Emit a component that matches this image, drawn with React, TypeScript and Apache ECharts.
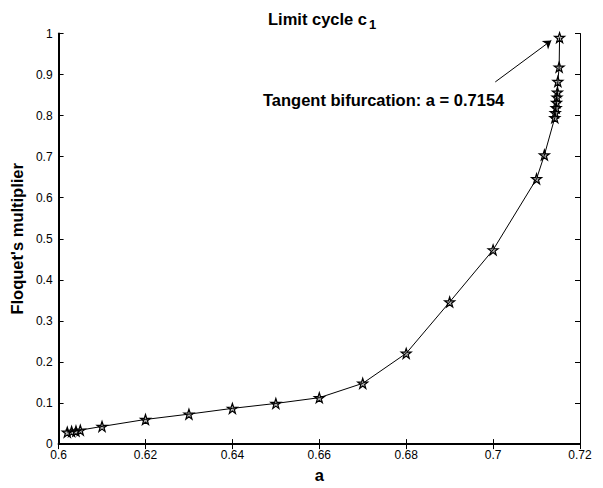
import React, { useEffect, useRef } from "react";
import * as echarts from "echarts";

const aValues = [0.602, 0.603, 0.604, 0.605, 0.61, 0.62, 0.63, 0.64, 0.65, 0.66, 0.67, 0.68, 0.69, 0.70, 0.71, 0.7118, 0.7142, 0.7143, 0.7145, 0.7146, 0.7147, 0.7148, 0.7149, 0.7152, 0.7153];
const multipliers = [0.029, 0.031, 0.032, 0.034, 0.043, 0.060, 0.073, 0.087, 0.099, 0.113, 0.148, 0.221, 0.346, 0.473, 0.646, 0.704, 0.795, 0.807, 0.819, 0.832, 0.845, 0.857, 0.883, 0.918, 0.990];
const arrowFrom = [0.7005, 0.882];
const arrowTo = [0.7134, 0.983];
const titleMain = "Limit cycle c";
const titleSub = "1";
const annotation = "Tangent bifurcation: a = 0.7154";
const xName = "a";
const yName = "Floquet's multiplier";

const STAR = "path://M50,0 L61.8,35.1 L98.1,35.1 L68.8,56.7 L79.4,91 L50,70 L20.6,91 L31.2,56.7 L1.9,35.1 L38.2,35.1 Z";
const FONT = "Liberation Sans, Arial, Helvetica, sans-serif";

export default function App() {
  const ref = useRef<HTMLDivElement>(null);
  useEffect(() => {
    if (!ref.current) return;
    const chart = echarts.init(ref.current, null, { renderer: "svg" });
    const data = aValues.map((a, i) => [a, multipliers[i]]);
    const tickCommon = { inside: true, length: 5, lineStyle: { color: "#000", width: 1 } };
    chart.setOption({
      animation: false,
      backgroundColor: "#fff",
      textStyle: { fontFamily: FONT },
      title: {
        text: titleMain,
        left: 263,
        top: 5,
        textStyle: { fontFamily: FONT, fontSize: 16.5, fontWeight: "bold", color: "#000" },
      },
      graphic: [
        {
          type: "text",
          left: 369,
          top: 18,
          style: { text: titleSub, font: `bold 13px ${FONT}`, fill: "#000" },
        },
        {
          type: "text",
          left: 263,
          top: 91,
          style: { text: annotation, font: `bold 16.5px ${FONT}`, fill: "#000" },
        },
      ],
      grid: { left: 50, right: 23, top: 33.5, bottom: 35.5 },
      xAxis: [
        {
          type: "value",
          min: 0.6,
          max: 0.72,
          interval: 0.02,
          name: xName,
          nameLocation: "middle",
          nameGap: 19,
          nameTextStyle: { fontFamily: FONT, fontSize: 16.5, fontWeight: "bold", color: "#000" },
          axisLine: { show: true, lineStyle: { color: "#000", width: 2 } },
          axisTick: tickCommon,
          axisLabel: { color: "#000", fontSize: 12, fontFamily: FONT, margin: 5 },
          splitLine: { show: false },
        },
        {
          type: "value",
          position: "top",
          min: 0.6,
          max: 0.72,
          interval: 0.02,
          axisLine: { show: true, lineStyle: { color: "#000", width: 1 } },
          axisTick: tickCommon,
          axisLabel: { show: false },
          splitLine: { show: false },
        },
      ],
      yAxis: [
        {
          type: "value",
          min: 0,
          max: 1,
          interval: 0.1,
          name: yName,
          nameLocation: "middle",
          nameGap: 23,
          nameTextStyle: { fontFamily: FONT, fontSize: 16.5, fontWeight: "bold", color: "#000" },
          axisLine: { show: true, lineStyle: { color: "#000", width: 2 } },
          axisTick: tickCommon,
          axisLabel: { color: "#000", fontSize: 12, fontFamily: FONT, margin: 6 },
          splitLine: { show: false },
        },
        {
          type: "value",
          position: "right",
          min: 0,
          max: 1,
          interval: 0.1,
          axisLine: { show: true, lineStyle: { color: "#000", width: 1 } },
          axisTick: tickCommon,
          axisLabel: { show: false },
          splitLine: { show: false },
        },
      ],
      series: [
        {
          type: "line",
          data,
          xAxisIndex: 0,
          yAxisIndex: 0,
          symbol: STAR,
          symbolSize: 10,
          showAllSymbol: true,
          lineStyle: { color: "#000", width: 1 },
          itemStyle: { color: "rgba(0,0,0,0.3)", borderColor: "#000", borderWidth: 1.2 },
          markLine: {
            silent: true,
            symbol: ["none", "arrow"],
            symbolSize: 8,
            label: { show: false },
            lineStyle: { color: "#000", width: 1, type: "solid" },
            data: [[{ coord: arrowFrom }, { coord: arrowTo }]],
          },
        },
      ],
    });
    return () => chart.dispose();
  }, []);
  return (
    <div
      ref={ref}
      style={{ position: "fixed", left: 0, top: 0, width: 603, height: 488 }}
    />
  );
}
